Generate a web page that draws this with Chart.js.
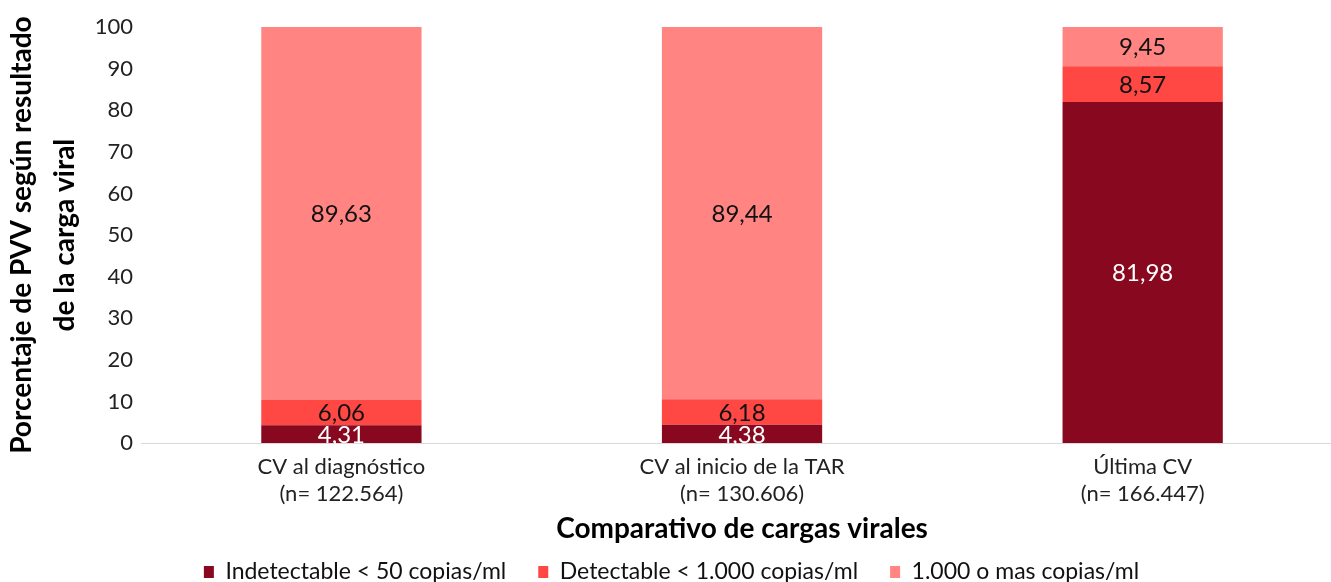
<!DOCTYPE html>
<html>
<head>
<meta charset="utf-8">
<script src="https://cdn.jsdelivr.net/npm/chart.js@4/dist/chart.umd.min.js"></script>
<style>
  html, body { margin: 0; padding: 0; background: #fff; overflow: hidden; }
  #wrap { width: 1331px; height: 582px; overflow: hidden; }
</style>
</head>
<body>
<!-- el área de trazado original se sale un poco por la derecha, por eso el canvas es más ancho -->
<div id="wrap"><canvas id="grafico" width="1343" height="582"></canvas></div>
<script>
// Datos del gráfico
const categorias = [
  ["CV al diagnóstico", "(n= 122.564)"],
  ["CV al inicio de la TAR", "(n= 130.606)"],
  ["Última CV", "(n= 166.447)"]
];
const indetectable = [4.31, 4.38, 81.98];
const detectable = [6.06, 6.18, 8.57];
const masCopias = [89.63, 89.44, 9.45];
const nombresSeries = ["Indetectable < 50 copias/ml", "Detectable < 1.000 copias/ml", "1.000 o mas copias/ml"];

const fuente = "Lato, 'Noto Sans', sans-serif";

// Etiquetas de valor dentro de cada segmento
const etiquetas = {
  id: "etiquetas",
  afterDatasetsDraw(chart) {
    const ctx = chart.ctx;
    ctx.save();
    ctx.font = "24px " + fuente;
    ctx.textAlign = "center";
    ctx.textBaseline = "middle";
    chart.data.datasets.forEach((ds, i) => {
      const meta = chart.getDatasetMeta(i);
      meta.data.forEach((bar, j) => {
        const p = bar.getCenterPoint();
        ctx.fillStyle = i === 0 ? "#ffffff" : "#111111";
        ctx.fillText(ds.data[j].toFixed(2).replace(".", ","), p.x, p.y + 1);
      });
    });
    ctx.restore();
  }
};

// La leyenda usa el mismo padding para separar items y para el alto; se recorta el alto
const ajusteLeyenda = {
  id: "ajusteLeyenda",
  beforeLayout(chart) {
    const ley = chart.legend;
    if (ley && !ley._ajustada) {
      const fitOriginal = ley.fit;
      ley.fit = function() { fitOriginal.call(this); this.height = 36.5; };
      ley._ajustada = true;
    }
  },
  afterLayout(chart) {
    if (chart.legend) chart.legend.top -= 17;
  }
};

new Chart(document.getElementById("grafico").getContext("2d"), {
  type: "bar",
  data: {
    labels: categorias,
    datasets: [
      { label: nombresSeries[0], data: indetectable, backgroundColor: "#880820" },
      { label: nombresSeries[1], data: detectable, backgroundColor: "#FF4744" },
      { label: nombresSeries[2], data: masCopias, backgroundColor: "#FF8482" }
    ]
  },
  options: {
    responsive: false,
    animation: false,
    devicePixelRatio: 1,
    layout: { padding: { top: 27, right: 0, left: 0, bottom: 0 } },
    datasets: { bar: { categoryPercentage: 1, barPercentage: 0.4, borderWidth: 0 } },
    plugins: {
      tooltip: { enabled: false },
      legend: {
        position: "bottom",
        labels: {
          font: { family: fuente, size: 23 },
          color: "#111",
          boxWidth: 10,
          boxHeight: 12,
          padding: 32
        }
      }
    },
    scales: {
      x: {
        stacked: true,
        grid: { display: false, drawTicks: false },
        border: { display: true, color: "#d9d9d9", width: 1 },
        ticks: { font: { family: fuente, size: 22, lineHeight: 1.2 }, color: "#222", padding: 11 },
        title: {
          display: true,
          text: "Comparativo de cargas virales",
          font: { family: fuente, size: 28, weight: "bold" },
          color: "#000",
          padding: { top: -6, bottom: 0 }
        }
      },
      y: {
        stacked: true,
        min: 0,
        max: 100,
        ticks: { stepSize: 10, font: { family: fuente, size: 22 }, color: "#222", padding: 8 },
        grid: { display: false, drawTicks: false },
        border: { display: false },
        title: {
          display: true,
          text: ["Porcentaje de PVV según resultado", "de la carga viral"],
          font: { family: fuente, size: 28, weight: "bold", lineHeight: 1.55 },
          color: "#000",
          padding: { top: 0, bottom: 0 }
        }
      }
    }
  },
  plugins: [etiquetas, ajusteLeyenda]
});
</script>
</body>
</html>
